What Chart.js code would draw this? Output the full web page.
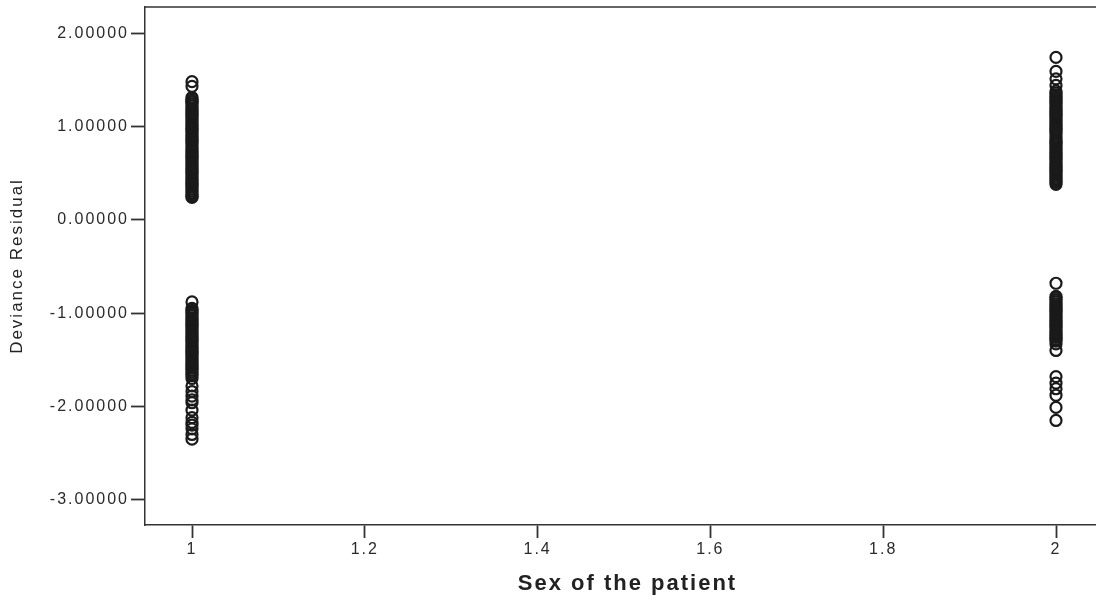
<!DOCTYPE html>
<html><head><meta charset="utf-8">
<script src="https://cdn.jsdelivr.net/npm/chart.js@4/dist/chart.umd.min.js"></script>
<style>
html,body{margin:0;padding:0;background:#fff;overflow:hidden;width:1096px;height:601px}
#wrap{width:1110px;height:601px;position:relative}
</style></head><body><div id="wrap"><canvas id="c" width="1110" height="601"></canvas></div>
<script>
const sexCodes = [1, 2];
const residualsSex1 = [1.48, 1.43, 1.31, 1.29, 1.27, 1.26, 1.24, 1.22, 1.20, 1.18, 1.16, 1.14, 1.12, 1.10, 1.08, 1.06, 1.04, 1.02, 1.00, 0.98, 0.96, 0.94, 0.92, 0.90, 0.88, 0.86, 0.84, 0.82, 0.79, 0.77, 0.75, 0.73, 0.71, 0.69, 0.67, 0.65, 0.63, 0.61, 0.59, 0.57, 0.55, 0.53, 0.51, 0.49, 0.47, 0.45, 0.43, 0.41, 0.39, 0.37, 0.35, 0.33, 0.31, 0.29, 0.27, 0.25, 0.24,
  -0.88, -0.95, -0.97, -0.99, -1.01, -1.03, -1.05, -1.07, -1.09, -1.11, -1.13, -1.15, -1.17, -1.19, -1.21, -1.23, -1.25, -1.27, -1.29, -1.31, -1.33, -1.35, -1.37, -1.39, -1.41, -1.43, -1.45, -1.47, -1.49, -1.51, -1.53, -1.55, -1.57, -1.59, -1.61, -1.63, -1.65, -1.67, -1.70, -1.78, -1.84, -1.89, -1.93, -1.96, -2.04, -2.12, -2.17, -2.20, -2.24, -2.30, -2.35];
const residualsSex2 = [1.74, 1.59, 1.51, 1.44, 1.38, 1.36, 1.34, 1.32, 1.30, 1.28, 1.26, 1.24, 1.22, 1.20, 1.18, 1.16, 1.14, 1.12, 1.10, 1.08, 1.06, 1.04, 1.02, 1.00, 0.98, 0.96, 0.94, 0.92, 0.89, 0.86, 0.84, 0.82, 0.80, 0.78, 0.76, 0.74, 0.72, 0.70, 0.68, 0.66, 0.64, 0.62, 0.60, 0.58, 0.56, 0.54, 0.52, 0.50, 0.48, 0.46, 0.44, 0.42, 0.40, 0.38,
  -0.68, -0.82, -0.84, -0.86, -0.88, -0.90, -0.92, -0.94, -0.96, -0.98, -1.00, -1.02, -1.04, -1.06, -1.08, -1.10, -1.12, -1.14, -1.16, -1.18, -1.20, -1.22, -1.24, -1.26, -1.28, -1.30, -1.33, -1.40, -1.68, -1.75, -1.81, -1.88, -2.01, -2.15];
const xTickValues = [1, 1.2, 1.4, 1.6, 1.8, 2];
const yTickValues = [2, 1, 0, -1, -2, -3];
const xAxisTitle = 'Sex of the patient';
const yAxisTitle = 'Deviance Residual';

const points = [];
[residualsSex1, residualsSex2].forEach((arr, i) => arr.forEach(v => points.push({x: sexCodes[i], y: v})));

const framePlugin = {
  id: 'frame',
  beforeUpdate(chart) { chart.ctx.letterSpacing = '2px'; },
  beforeDraw(chart) { chart.ctx.letterSpacing = '2px'; },
  afterDraw(chart) {
    const {ctx, chartArea: a} = chart;
    ctx.save();
    ctx.strokeStyle = '#333';
    ctx.lineWidth = 1.5;
    ctx.beginPath();
    ctx.moveTo(a.left, a.top);
    ctx.lineTo(a.right, a.top);
    ctx.stroke();
    ctx.restore();
  }
};

new Chart(document.getElementById('c'), {
  type: 'scatter',
  data: { datasets: [{
    data: points,
    pointStyle: 'circle',
    pointRadius: 5.5,
    pointBorderWidth: 2.2,
    borderColor: '#1a1a1a',
    backgroundColor: 'rgba(0,0,0,0)'
  }]},
  options: {
    responsive: false,
    animation: false,
    layout: { autoPadding: false, padding: { top: 7, right: 0, bottom: 0, left: 0 } },
    plugins: { legend: { display: false }, tooltip: { enabled: false } },
    scales: {
      x: {
        type: 'linear',
        min: 0.9456, max: 2.0625,
        afterBuildTicks: s => { s.ticks = xTickValues.map(v => ({value: v})); },
        afterFit: s => { s.height = 76; },
        grid: { drawOnChartArea: false, drawTicks: true, tickLength: 13, tickColor: '#333', tickWidth: 1.8 },
        border: { display: true, color: '#333', width: 1.5 },
        ticks: { color: '#2a2a2a', padding: 2, font: { family: 'Liberation Sans', size: 16 }, maxRotation: 0,
          callback: v => String(v) },
        title: { display: true, text: xAxisTitle, color: '#222', padding: { top: 0, bottom: 4 },
          font: { family: 'Liberation Sans', size: 22, weight: 'bold' } }
      },
      y: {
        min: -3.27, max: 2.28,
        afterBuildTicks: s => { s.ticks = yTickValues.map(v => ({value: v})); },
        afterFit: s => { s.width = 145; s.paddingTop = 0; s.paddingBottom = 0; },
        grid: { drawOnChartArea: false, drawTicks: true, tickLength: 14, tickColor: '#333', tickWidth: 1.8 },
        border: { display: true, color: '#333', width: 1.5 },
        ticks: { color: '#2a2a2a', padding: 2, font: { family: 'Liberation Sans', size: 16 },
          callback: v => Number(v).toFixed(5) },
        title: { display: true, text: yAxisTitle, color: '#222', padding: { top: 7, bottom: 0 },
          font: { family: 'Liberation Sans', size: 17 } }
      }
    }
  },
  plugins: [framePlugin]
});
</script></body></html>
